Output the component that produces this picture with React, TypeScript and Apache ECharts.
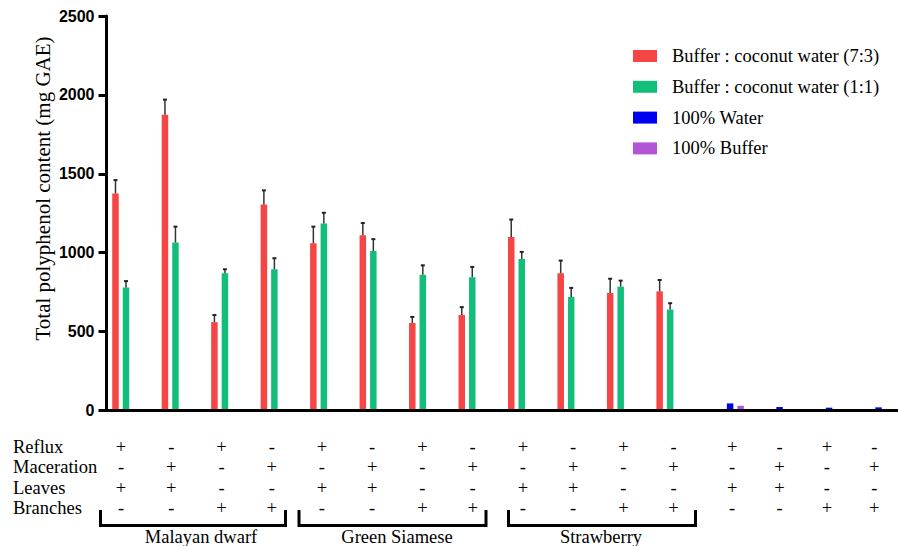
import React, { useEffect, useRef } from "react";
import * as echarts from "echarts";

// ---- data ----
const categories = [
  "MD Reflux Leaves", "MD Maceration Leaves", "MD Reflux Branches", "MD Maceration Branches",
  "GS Reflux Leaves", "GS Maceration Leaves", "GS Reflux Branches", "GS Maceration Branches",
  "SB Reflux Leaves", "SB Maceration Leaves", "SB Reflux Branches", "SB Maceration Branches",
  "Ctrl Reflux Leaves", "Ctrl Maceration Leaves", "Ctrl Reflux Branches", "Ctrl Maceration Branches",
];
const seriesNames = [
  "Buffer : coconut water (7:3)",
  "Buffer : coconut water (1:1)",
  "100% Water",
  "100% Buffer",
];
const redValues = [1375, 1875, 560, 1305, 1060, 1110, 555, 605, 1100, 870, 745, 755, 0, 0, 0, 0];
const redErrors = [85, 95, 45, 90, 105, 78, 38, 50, 110, 80, 90, 72, 0, 0, 0, 0];
const greenValues = [780, 1065, 870, 895, 1185, 1010, 860, 845, 960, 720, 785, 640, 0, 0, 0, 0];
const greenErrors = [40, 100, 25, 70, 68, 76, 60, 65, 45, 57, 38, 40, 0, 0, 0, 0];
const blueValues = [0, 0, 0, 0, 0, 0, 0, 0, 0, 0, 0, 0, 45, 22, 18, 20];
const purpleValues = [0, 0, 0, 0, 0, 0, 0, 0, 0, 0, 0, 0, 30, 8, 8, 5];

const yMin = 0;
const yMax = 2500;
const yInterval = 500;

const rowNames = ["Reflux", "Maceration", "Leaves", "Branches"];
const refluxRow = ["+", "-", "+", "-", "+", "-", "+", "-", "+", "-", "+", "-", "+", "-", "+", "-"];
const macerationRow = ["-", "+", "-", "+", "-", "+", "-", "+", "-", "+", "-", "+", "-", "+", "-", "+"];
const leavesRow = ["+", "+", "-", "-", "+", "+", "-", "-", "+", "+", "-", "-", "+", "+", "-", "-"];
const branchesRow = ["-", "-", "+", "+", "-", "-", "+", "+", "-", "-", "+", "+", "-", "-", "+", "+"];
const groupNames = ["Malayan dwarf", "Green Siamese", "Strawberry"];

// ---- styles ----
const colors = ["#F64545", "#13BE7A", "#0000F2", "#B256D6"];
const serif = '"Liberation Serif", "Times New Roman", serif';
const BAR_W = 6.5;
const GAP_PX = 4;

export default function App() {
  const ref = useRef<HTMLDivElement>(null);

  useEffect(() => {
    if (!ref.current) return;
    const chart = echarts.init(ref.current, null, { renderer: "svg" });

    const tableLabels = categories.map((_, i) =>
      [refluxRow[i], macerationRow[i], leavesRow[i], branchesRow[i]].join("\n")
    );

    const slotOffset = (slot: number) => (slot - 1.5) * (BAR_W + GAP_PX);

    const errSeries = (vals: number[], errs: number[], slot: number) => ({
      type: "custom",
      xAxisIndex: 0,
      yAxisIndex: 0,
      z: 5,
      silent: true,
      encode: { x: 0, y: 1 },
      data: vals
        .map((v, i) => [i, v, errs[i]])
        .filter((d) => d[2] > 0),
      renderItem: (params: any, api: any) => {
        const x = api.value(0);
        const v = api.value(1);
        const e = api.value(2);
        const base = api.coord([x, v]);
        const top = api.coord([x, v + e]);
        const cx = base[0] + slotOffset(slot);
        return {
          type: "group",
          children: [
            {
              type: "line",
              shape: { x1: cx, y1: base[1], x2: cx, y2: top[1] },
              style: { stroke: "#333", lineWidth: 1.5 },
            },
            {
              type: "line",
              shape: { x1: cx - 2, y1: top[1], x2: cx + 2, y2: top[1] },
              style: { stroke: "#222", lineWidth: 2 },
            },
          ],
        };
      },
    });

    const tableAxis = (gridIndex: number, from: number, to: number) => ({
      type: "category",
      gridIndex,
      data: tableLabels.slice(from, to),
      boundaryGap: true,
      axisLine: { show: false },
      axisTick: { show: false },
      axisLabel: {
        interval: 0,
        margin: 6.5,
        color: "#000",
        fontFamily: serif,
        fontSize: 18.5,
        lineHeight: 20.5,
        verticalAlign: "top",
      },
    });

    const bracket = (x1: number, x2: number) => ({
      type: "polyline",
      shape: { points: [[x1, 510], [x1, 525.5], [x2, 525.5], [x2, 510]] },
      style: { stroke: "#000", lineWidth: 3, fill: null },
    });
    const groupLabel = (text: string, x: number) => ({
      type: "text",
      x,
      y: 536.5,
      style: {
        text,
        font: `18.5px ${serif}`,
        fill: "#000",
        align: "center",
        verticalAlign: "middle",
      },
    });

    chart.setOption({
      animation: false,
      color: colors,
      grid: [
        { left: 106.5, right: 0, top: 16, bottom: 135.5 },
        { left: 95.9, top: 400, width: 602.8, height: 30 },
        { left: 708.5, top: 400, width: 206.4, height: 30 },
      ],
      legend: {
        orient: "vertical",
        left: 633,
        top: 46,
        padding: 0,
        itemWidth: 24,
        itemHeight: 12,
        itemGap: 10.8,
        icon: "rect",
        data: seriesNames,
        textStyle: {
          fontFamily: serif,
          fontSize: 18.5,
          lineHeight: 20,
          color: "#000",
          padding: [0, 0, 0, 10],
        },
      },
      xAxis: [
        {
          type: "category",
          gridIndex: 0,
          data: categories,
          z: 6,
          axisLine: { lineStyle: { color: "#000", width: 3 } },
          axisTick: { alignWithLabel: true, length: 9, lineStyle: { color: "#000", width: 3 } },
          axisLabel: { show: false },
        },
        tableAxis(1, 0, 12),
        tableAxis(2, 12, 16),
      ],
      yAxis: [
        {
          type: "value",
          gridIndex: 0,
          min: yMin,
          max: yMax,
          interval: yInterval,
          z: 6,
          splitLine: { show: false },
          axisLine: { show: true, lineStyle: { color: "#000", width: 3 } },
          axisTick: { show: true, length: 8, lineStyle: { color: "#000", width: 3 } },
          axisLabel: {
            margin: 12,
            color: "#000",
            fontFamily: 'Arial, "Liberation Sans", sans-serif',
            fontWeight: "bold",
            fontSize: 16,
            formatter: (v: number) => String(v),
          },
        },
        { type: "value", gridIndex: 1, show: false },
        { type: "value", gridIndex: 2, show: false },
      ],
      series: [
        { name: seriesNames[0], type: "bar", data: redValues, barWidth: BAR_W, barGap: `${(GAP_PX / BAR_W) * 100}%` },
        { name: seriesNames[1], type: "bar", data: greenValues, barWidth: BAR_W, barGap: `${(GAP_PX / BAR_W) * 100}%` },
        { name: seriesNames[2], type: "bar", data: blueValues, barWidth: BAR_W, barGap: `${(GAP_PX / BAR_W) * 100}%` },
        { name: seriesNames[3], type: "bar", data: purpleValues, barWidth: BAR_W, barGap: `${(GAP_PX / BAR_W) * 100}%` },
        errSeries(redValues, redErrors, 0),
        errSeries(greenValues, greenErrors, 1),
      ],
      graphic: [
        {
          type: "text",
          x: 43,
          y: 188.5,
          rotation: Math.PI / 2,
          style: {
            text: "Total polyphenol content (mg GAE)",
            font: `21px ${serif}`,
            fill: "#000",
            align: "center",
            verticalAlign: "middle",
          },
        },
        {
          type: "text",
          x: 13,
          y: 436.5,
          style: {
            text: rowNames.join("\n"),
            font: `18.5px ${serif}`,
            lineHeight: 20.5,
            fill: "#000",
            align: "left",
            verticalAlign: "top",
          },
        },
        bracket(100.5, 285.5),
        bracket(299, 486),
        bracket(508.5, 695.5),
        groupLabel(groupNames[0], 201),
        groupLabel(groupNames[1], 397),
        groupLabel(groupNames[2], 601),
      ],
    });

    return () => chart.dispose();
  }, []);

  return (
    <div
      ref={ref}
      style={{ position: "fixed", left: 0, top: 0, width: 898, height: 546, background: "#fff" }}
    />
  );
}
